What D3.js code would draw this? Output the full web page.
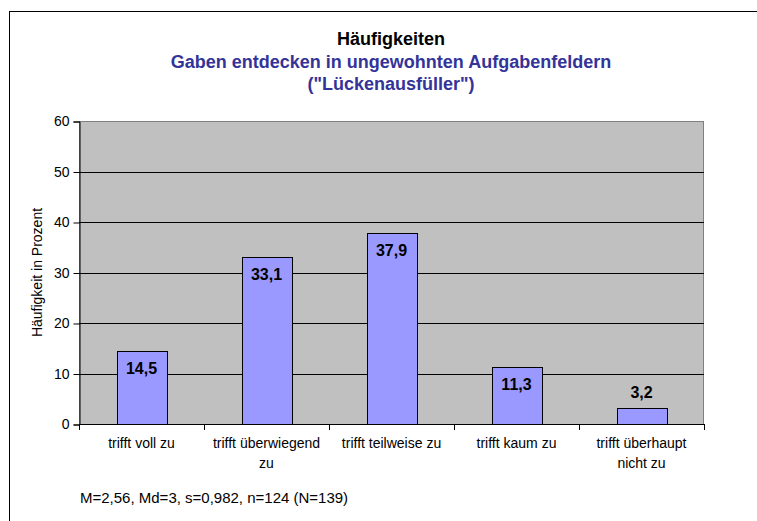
<!DOCTYPE html>
<html>
<head>
<meta charset="utf-8">
<script src="https://cdn.jsdelivr.net/npm/d3@7"></script>
<style>
  body { margin: 0; background: #fff; }
  svg { display: block; font-family: "Liberation Sans", Arial, sans-serif; }
</style>
</head>
<body>
<svg width="757" height="521"></svg>
<script>
const categories = [
    ['trifft voll zu'],
    ['trifft überwiegend', 'zu'],
    ['trifft teilweise zu'],
    ['trifft kaum zu'],
    ['trifft überhaupt', 'nicht zu']
];
const values = [14.5, 33.1, 37.9, 11.3, 3.2];
const yTicks = [0, 10, 20, 30, 40, 50, 60];
const titleLines = ['Häufigkeiten'];
const subtitleLines = ['Gaben entdecken in ungewohnten Aufgabenfeldern', '("Lückenausfüller")'];
const footnote = 'M=2,56, Md=3, s=0,982, n=124 (N=139)';
const yLabel = 'Häufigkeit in Prozent';

const svg = d3.select('svg');
const plot = {left: 79, top: 121, right: 704, bottom: 424};
const fontFamily = '"Liberation Sans", Arial, sans-serif';

// outer frame
svg.append('rect')
    .attr('x', 9.5).attr('y', 11.5)
    .attr('width', 800).attr('height', 600)
    .attr('fill', '#fff').attr('stroke', '#000').attr('stroke-width', 1);

const x = d3.scaleBand()
    .domain(d3.range(categories.length))
    .range([plot.left, plot.right])
    .paddingInner(0.6).paddingOuter(0.3);

const y = d3.scaleLinear()
    .domain([0, 60])
    .range([plot.bottom, plot.top]);

// plot background
svg.append('rect')
    .attr('x', plot.left + 0.5).attr('y', plot.top + 0.5)
    .attr('width', plot.right - plot.left - 1).attr('height', plot.bottom - plot.top)
    .attr('fill', '#c0c0c0').attr('stroke', '#808080');

// gridlines
svg.append('g')
    .selectAll('line')
    .data(yTicks.slice(1, -1))
    .enter().append('line')
    .attr('x1', plot.left).attr('x2', plot.right)
    .attr('y1', d => Math.round(y(d)) + 0.5).attr('y2', d => Math.round(y(d)) + 0.5)
    .attr('stroke', '#000').attr('stroke-width', 1);

// bars
svg.append('g')
    .selectAll('rect')
    .data(values)
    .enter().append('rect')
    .attr('x', (d, i) => Math.round(x(i)) + 0.5)
    .attr('y', d => Math.round(y(d)) + 0.5)
    .attr('width', x.bandwidth())
    .attr('height', d => Math.round(y(0)) - Math.round(y(d)))
    .attr('fill', '#9999ff')
    .attr('stroke', '#000').attr('stroke-width', 1);

// value labels (inside bar top, above bar if too short)
svg.append('g')
    .selectAll('text')
    .data(values)
    .enter().append('text')
    .attr('x', (d, i) => x(i) + x.bandwidth() / 2)
    .attr('y', d => (y(0) - y(d) > 28) ? y(d) + 23 : y(d) - 10)
    .attr('text-anchor', 'middle')
    .attr('font-size', 16).attr('font-weight', 'bold')
    .text(d => d.toFixed(1).replace('.', ','));

// y axis
const yAxis = d3.axisLeft(y).tickValues(yTicks).tickSize(6).tickPadding(4);
const yg = svg.append('g')
    .attr('transform', `translate(${plot.left + 0.5},0.5)`)
    .call(yAxis);
yg.select('.domain').attr('stroke', '#000');
yg.selectAll('text').attr('font-size', 14).attr('font-family', fontFamily).attr('fill', '#000');

// x axis
const xBoundaries = d3.range(categories.length + 1).map(i => plot.left + i * (plot.right - plot.left) / categories.length);
const xg = svg.append('g');
xg.append('line')
    .attr('x1', plot.left).attr('x2', plot.right)
    .attr('y1', plot.bottom + 0.5).attr('y2', plot.bottom + 0.5)
    .attr('stroke', '#000');
xg.selectAll('line.tick')
    .data(xBoundaries)
    .enter().append('line')
    .attr('class', 'tick')
    .attr('x1', d => Math.round(d) + 0.5).attr('x2', d => Math.round(d) + 0.5)
    .attr('y1', plot.bottom).attr('y2', plot.bottom + 6)
    .attr('stroke', '#000');

const xLabels = xg.selectAll('text')
    .data(categories)
    .enter().append('text')
    .attr('x', (d, i) => x(i) + x.bandwidth() / 2)
    .attr('y', plot.bottom + 24)
    .attr('text-anchor', 'middle')
    .attr('font-size', 14);
xLabels.selectAll('tspan')
    .data(d => d)
    .enter().append('tspan')
    .attr('x', function () { return this.parentNode.getAttribute('x'); })
    .attr('dy', (d, i) => i === 0 ? 0 : 20)
    .text(d => d);

// y label
svg.append('text')
    .attr('transform', `translate(42,${(plot.top + plot.bottom) / 2}) rotate(-90)`)
    .attr('text-anchor', 'middle')
    .attr('font-size', 14)
    .text(yLabel);

// titles
svg.append('text')
    .attr('x', 391).attr('y', 45)
    .attr('text-anchor', 'middle')
    .attr('font-size', 18).attr('font-weight', 'bold')
    .text(titleLines[0]);

svg.append('g')
    .selectAll('text')
    .data(subtitleLines)
    .enter().append('text')
    .attr('x', 391).attr('y', (d, i) => 68 + i * 22)
    .attr('text-anchor', 'middle')
    .attr('font-size', 18).attr('font-weight', 'bold')
    .attr('fill', '#333399')
    .text(d => d);

// footnote
svg.append('text')
    .attr('x', 80).attr('y', 503)
    .attr('font-size', 15)
    .text(footnote);
</script>
</body>
</html>
